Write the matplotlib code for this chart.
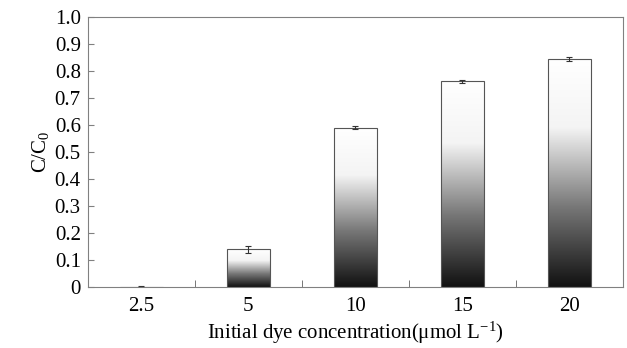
import numpy as np
import matplotlib
matplotlib.use("Agg")
import matplotlib.pyplot as plt
from matplotlib.colors import LinearSegmentedColormap

plt.rcParams['font.family'] = ['Liberation Serif', 'DejaVu Serif']
plt.rcParams['mathtext.fontset'] = 'custom'
plt.rcParams['mathtext.rm'] = 'Liberation Serif'
plt.rcParams['mathtext.it'] = 'Liberation Serif:italic'

categories = ['2.5', '5', '10', '15', '20']
values = [0.0, 0.140, 0.591, 0.763, 0.845]
errors = [0.004, 0.012, 0.005, 0.006, 0.007]

fig, ax = plt.subplots(figsize=(6.27, 3.48), dpi=100)
fig.subplots_adjust(left=0.14, right=0.993, top=0.95, bottom=0.175)

x = np.arange(len(categories))
bars = ax.bar(x, values, width=0.4, color='none', edgecolor='#555555', linewidth=0.8, zorder=3)

# white-to-black gradient for each bar
cmap = LinearSegmentedColormap.from_list('g', [(0, '#111111'), (0.35, '#777777'), (0.7, '#f4f4f4'), (1, '#ffffff')])
grad = np.linspace(0, 1, 256).reshape(-1, 1)
for b in bars:
    h = b.get_height()
    if h <= 0.01:
        continue
    im = ax.imshow(grad, cmap=cmap, origin='lower', aspect='auto',
                   extent=(b.get_x(), b.get_x() + b.get_width(), 0, h), zorder=2)
    im.set_clip_path(b)

ax.errorbar(x, values, yerr=errors, fmt='none', ecolor='#333333', elinewidth=0.8, capsize=2.5, capthick=0.8, zorder=4)

ax.set_xlim(-0.5, len(categories) - 0.5)
ax.set_ylim(0, 1.0)
ax.set_xticks(x)
ax.set_xticklabels(categories)
ax.set_xticks(np.arange(0.5, len(categories) - 0.5), minor=True)
ax.tick_params(axis='x', which='major', length=0, pad=7, labelsize=15)
ax.tick_params(axis='x', which='minor', direction='in', length=5, color='#606060')
ax.set_yticks(np.arange(0, 1.01, 0.1))
ax.set_yticklabels(['0'] + ['%.1f' % v for v in np.arange(0.1, 1.01, 0.1)])
ax.tick_params(axis='y', direction='in', length=4, color='#808080', labelsize=15, pad=5)
for s in ax.spines.values():
    s.set_color('#808080')
    s.set_linewidth(0.8)

ax.set_ylabel(r'C/C$_\mathregular{0}$', fontsize=15, labelpad=3)
ax.set_xlabel(r'Initial dye concentration($\mathregular{\mu}$mol L$^\mathregular{-1}$)', fontsize=15, labelpad=3)

plt.savefig('out.png', dpi=100)
plt.close()
